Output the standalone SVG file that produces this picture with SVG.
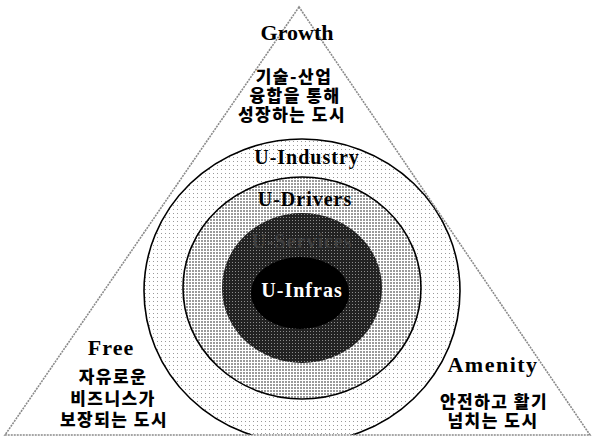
<svg xmlns="http://www.w3.org/2000/svg" width="594" height="439" viewBox="0 0 594 439">
  <defs>
    <pattern id="dotsLight" width="4" height="4" patternUnits="userSpaceOnUse">
      <rect width="4" height="4" fill="#ffffff"/>
      <rect x="1" y="1" width="1" height="1" fill="#9a9a9a"/>
    </pattern>
    <pattern id="dotsMid" width="3" height="3" patternUnits="userSpaceOnUse">
      <rect width="3" height="3" fill="#ffffff"/>
      <rect x="0" y="0" width="2" height="2" fill="#9a9a9a"/>
    </pattern>
    <pattern id="dotsDark" width="3" height="3" patternUnits="userSpaceOnUse">
      <rect width="3" height="3" fill="#222222"/>
      <rect x="1" y="1" width="1" height="1" fill="#8c8c8c"/>
    </pattern>
    <clipPath id="triClip">
      <polygon points="299,7 5,435 590,435"/>
    </clipPath>
    <style>
      .edge { fill: none; stroke: #8a8a8a; stroke-width: 1.6; stroke-dasharray: 2 1; }
      .ring { stroke: #000; stroke-width: 1.6; }
      .en { font-family: "Liberation Serif", "Times New Roman", serif; font-weight: bold; text-anchor: middle; }
      .ko { font-family: "Noto Sans CJK KR", "Noto Sans", sans-serif; font-weight: 900; font-size: 17px; letter-spacing: 1.5px; text-anchor: middle; fill: #000; }
    </style>
  </defs>

  <rect width="594" height="439" fill="#ffffff"/>

  <g id="rings" clip-path="url(#triClip)">
    <g id="ring-industry">
      <ellipse cx="302" cy="291" rx="158" ry="152" fill="url(#dotsLight)" class="ring"/>
    </g>
    <g id="ring-drivers">
      <ellipse cx="302" cy="288" rx="119" ry="111" fill="url(#dotsMid)" class="ring"/>
    </g>
    <g id="ring-services">
      <ellipse cx="302" cy="288" rx="80" ry="75" fill="url(#dotsDark)"/>
    </g>
    <g id="core-infras">
      <ellipse cx="300" cy="293" rx="49" ry="36" fill="#000"/>
    </g>
  </g>

  <g id="triangle">
    <polygon class="edge" points="299,7 5,435 590,435"/>
  </g>

  <g id="ring-labels">
    <text class="en" x="307" y="164" font-size="20" letter-spacing="1" fill="#000">U-Industry</text>
    <text class="en" x="305" y="206" font-size="20" letter-spacing="1" fill="#000">U-Drivers</text>
    <text class="en" x="302" y="248" font-size="20" letter-spacing="1" fill="#3e3e3e">U-Services</text>
    <text class="en" x="302" y="297" font-size="20" letter-spacing="1" fill="#ffffff">U-Infras</text>
  </g>

  <g id="node-growth">
    <text class="en" x="297" y="40" font-size="22" fill="#000">Growth</text>
    <text class="ko" x="294" y="83">기술-산업</text>
    <text class="ko" x="295" y="102">융합을 통해</text>
    <text class="ko" x="292" y="121">성장하는 도시</text>
  </g>

  <g id="node-free">
    <text class="en" x="111" y="355" font-size="22" letter-spacing="1" fill="#000">Free</text>
    <text class="ko" x="113" y="383">자유로운</text>
    <text class="ko" x="113" y="405">비즈니스가</text>
    <text class="ko" x="114" y="426">보장되는 도시</text>
  </g>

  <g id="node-amenity">
    <text class="en" x="493" y="372" font-size="22" letter-spacing="1.5" fill="#000">Amenity</text>
    <text class="ko" x="494" y="408">안전하고 활기</text>
    <text class="ko" x="493" y="427">넘치는 도시</text>
  </g>
</svg>
